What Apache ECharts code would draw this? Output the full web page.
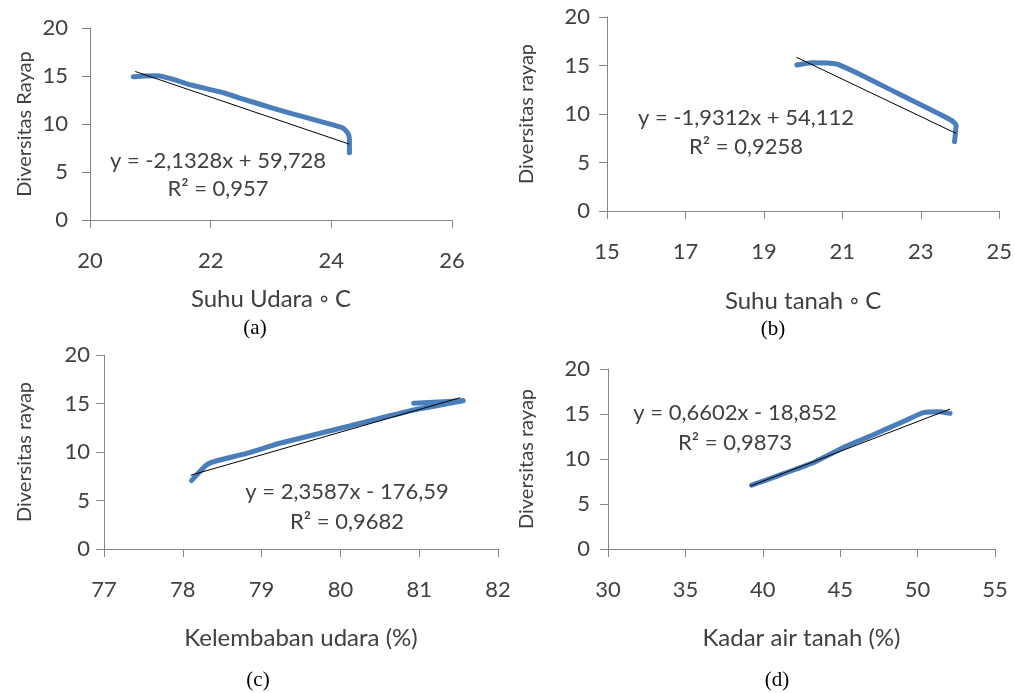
<!DOCTYPE html>
<html>
<head>
<meta charset="utf-8">
<script src="https://cdn.jsdelivr.net/npm/echarts@6/dist/echarts.min.js"></script>
<style>
  html, body { margin: 0; padding: 0; background: #fff; }
  #chart { width: 1015px; height: 693px; }
</style>
</head>
<body>
<div id="chart"></div>
<script>
// (a) Suhu udara
const suhuUdara = [20.72, 20.9, 21.13, 21.68, 22.24, 22.51, 23.04, 23.59, 24.03, 24.2, 24.28, 24.3, 24.3]
const diversitasA = [14.92, 15.0, 15.02, 14.06, 13.2, 12.65, 11.63, 10.66, 9.9, 9.55, 9.0, 8.3, 7.0]
const trendAx = [20.75, 24.3]
const trendAy = [15.47, 7.9]
const ticksA = [20, 22, 24, 26]

// (b) Suhu tanah
const suhuTanah = [19.84, 20.22, 20.85, 21.49, 22.33, 23.18, 23.77, 23.9, 23.88, 23.86]
const diversitasB = [15.05, 15.29, 15.15, 14.0, 12.3, 10.6, 9.38, 8.87, 7.9, 7.15]
const trendBx = [19.83, 23.9]
const trendBy = [15.85, 8.0]
const ticksB = [15, 17, 19, 21, 23, 25]

// (c) Kelembaban udara
const kelembaban = [80.93, 81.56, 80.93, 80.08, 79.23, 78.81, 78.43, 78.3, 78.11]
const diversitasC = [15.02, 15.29, 14.33, 12.6, 10.9, 9.86, 9.1, 8.66, 7.05]
const trendCx = [78.1, 81.52]
const trendCy = [7.6, 15.6]
const ticksC = [77, 78, 79, 80, 81, 82]

// (d) Kadar air tanah
const kadarAir = [39.28, 41.0, 43.16, 45.31, 47.14, 49.3, 50.37, 51.45, 52.1]
const diversitasD = [7.1, 8.15, 9.52, 11.37, 12.7, 14.33, 15.15, 15.26, 15.07]
const trendDx = [39.2, 52.1]
const trendDy = [7.0, 15.55]
const ticksD = [30, 35, 40, 45, 50, 55]

const yTicks = [0, 5, 10, 15, 20]

const FONT = 'Lato'
const TXT = '#404040'
const AXIS = '#868686'
const BLUE = '#4A7EBB'

const panels = [
  { grid: { left: 90, top: 28, width: 362, height: 192 }, ticks: ticksA, xName: 'Suhu Udara ◦ C', yName: 'Diversitas Rayap',
    xGap: 67, yGap: 55, yMargin: 22, xs: suhuUdara, ys: diversitasA, tx: trendAx, ty: trendAy },
  { grid: { left: 607, top: 17, width: 395, height: 194 }, ticks: ticksB, xName: 'Suhu tanah ◦ C', yName: 'Diversitas rayap',
    xGap: 78, yGap: 70, yMargin: 17, xs: suhuTanah, ys: diversitasB, tx: trendBx, ty: trendBy },
  { grid: { left: 104, top: 355, width: 394, height: 194 }, ticks: ticksC, xName: 'Kelembaban udara (%)', yName: 'Diversitas rayap',
    xGap: 77, yGap: 69, yMargin: 14, xs: kelembaban, ys: diversitasC, tx: trendCx, ty: trendCy },
  { grid: { left: 608, top: 369, width: 387, height: 180 }, ticks: ticksD, xName: 'Kadar air tanah (%)', yName: 'Diversitas rayap',
    xGap: 77, yGap: 71, yMargin: 18, xs: kadarAir, ys: diversitasD, tx: trendDx, ty: trendDy }
]

const equations = [
  { eq: 'y = -2,1328x + 59,728', r2: 'R² = 0,957', x: 218, y: 161, y2: 189 },
  { eq: 'y = -1,9312x + 54,112', r2: 'R² = 0,9258', x: 746, y: 118, y2: 147 },
  { eq: 'y = 2,3587x - 176,59', r2: 'R² = 0,9682', x: 347, y: 492, y2: 522 },
  { eq: 'y = 0,6602x - 18,852', r2: 'R² = 0,9873', x: 735, y: 413, y2: 443 }
]

const captions = [
  { t: '(a)', x: 255, y: 328 },
  { t: '(b)', x: 773, y: 329 },
  { t: '(c)', x: 258, y: 680 },
  { t: '(d)', x: 777, y: 680 }
]

const grids = [], xAxes = [], yAxes = [], series = []
panels.forEach((p, i) => {
  grids.push(p.grid)
  xAxes.push({
    type: 'value', gridIndex: i,
    min: p.ticks[0], max: p.ticks[p.ticks.length - 1],
    name: p.xName, nameLocation: 'middle', nameGap: p.xGap,
    nameTextStyle: { fontFamily: FONT, fontSize: 24, color: TXT },
    splitLine: { show: false },
    axisLine: { show: true, lineStyle: { color: AXIS, width: 1 } },
    axisTick: { show: true, customValues: p.ticks, length: 8, lineStyle: { color: AXIS } },
    axisLabel: { customValues: p.ticks, margin: 30, fontFamily: FONT, fontSize: 22, color: TXT }
  })
  yAxes.push({
    type: 'value', gridIndex: i, min: 0, max: 20,
    name: p.yName, nameLocation: 'middle', nameGap: p.yGap,
    nameTextStyle: { fontFamily: FONT, fontSize: 20, color: TXT },
    splitLine: { show: false },
    axisLine: { show: true, lineStyle: { color: AXIS, width: 1 } },
    axisTick: { show: true, customValues: yTicks, length: 8, lineStyle: { color: AXIS } },
    axisLabel: { customValues: yTicks, margin: p.yMargin, fontFamily: FONT, fontSize: 22, color: TXT }
  })
  series.push({
    type: 'line', xAxisIndex: i, yAxisIndex: i, smooth: 0.15,
    showSymbol: false, symbol: 'none',
    lineStyle: { color: BLUE, width: 5, cap: 'round', join: 'round' },
    data: p.xs.map((x, k) => [x, p.ys[k]]),
    z: 2
  })
  series.push({
    type: 'line', xAxisIndex: i, yAxisIndex: i,
    showSymbol: false, symbol: 'none',
    lineStyle: { color: '#000', width: 1 },
    data: p.tx.map((x, k) => [x, p.ty[k]]),
    z: 3
  })
})

const graphics = []
equations.forEach(e => {
  graphics.push({ type: 'text', x: e.x, y: e.y, style: { text: e.eq, fontFamily: FONT, fontSize: 22, fill: TXT, align: 'center', verticalAlign: 'middle' } })
  graphics.push({ type: 'text', x: e.x, y: e.y2, style: { text: e.r2, fontFamily: FONT, fontSize: 22, fill: TXT, align: 'center', verticalAlign: 'middle' } })
})
captions.forEach(c => {
  graphics.push({ type: 'text', x: c.x, y: c.y, style: { text: c.t, fontFamily: 'Liberation Serif', fontSize: 21, fill: '#000', align: 'center', verticalAlign: 'middle' } })
})

const chart = echarts.init(document.getElementById('chart'))
chart.setOption({
  animation: false,
  backgroundColor: '#fff',
  grid: grids,
  xAxis: xAxes,
  yAxis: yAxes,
  series: series,
  graphic: graphics
})
</script>
</body>
</html>
